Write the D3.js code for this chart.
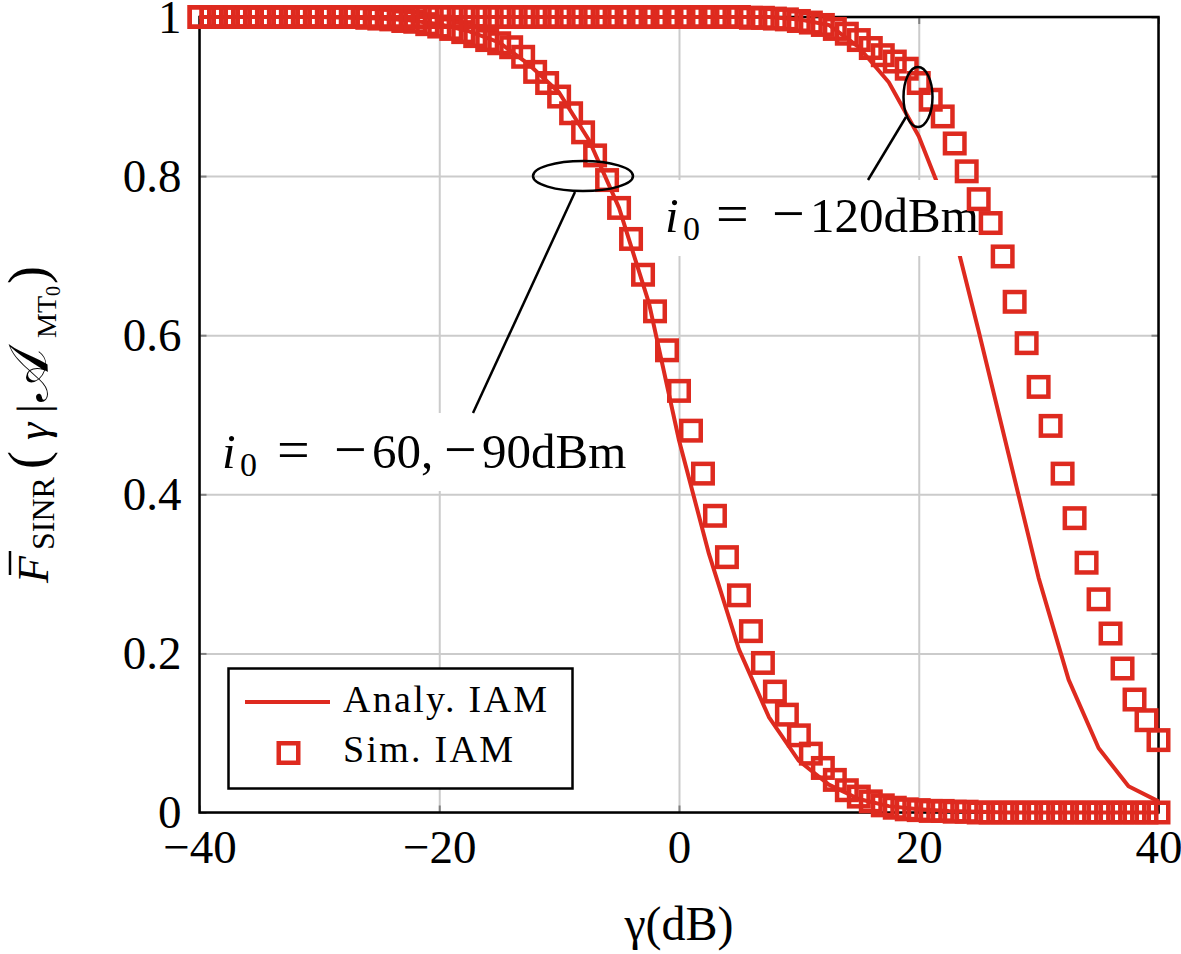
<!DOCTYPE html>
<html>
<head>
<meta charset="utf-8">
<script src="https://cdn.jsdelivr.net/npm/d3@7"></script>
<style>
  body { margin: 0; background: #fff; }
  text { font-family: "Liberation Serif", "DejaVu Serif", serif; fill: #000; }
</style>
</head>
<body>
<div id="chart"></div>
<script>
// gamma (dB) grid of the simulation markers
const gammaSim = [-40,-39,-38,-37,-36,-35,-34,-33,-32,-31,-30,-29,-28,-27,-26,-25,-24,-23,-22,-21,
  -20,-19,-18,-17,-16,-15,-14,-13,-12,-11,-10,-9,-8,-7,-6,-5,-4,-3,-2,-1,
  0,1,2,3,4,5,6,7,8,9,10,11,12,13,14,15,16,17,18,19,
  20,21,22,23,24,25,26,27,28,29,30,31,32,33,34,35,36,37,38,39,40];

// Sim. IAM, i0 = -60, -90 dBm
const simLow = [1,1,1,1,1,1,1,1,1,1,1,1,1,1,
  0.999,0.998,0.997,0.995,0.994,0.991,0.988,0.985,0.981,0.976,0.971,0.967,0.962,
  0.950,0.931,0.917,0.900,0.879,0.855,0.826,0.795,0.760,0.721,0.676,0.630,0.581,0.530,
  0.480,0.426,0.373,0.321,0.273,0.228,0.188,0.152,0.123,0.097,0.074,0.056,0.041,0.028,0.020,0.014,
  0.009,0.006,0.004,0.003,0.002,0.002,0.001,0.001,
  0,0,0,0,0,0,0,0,0,0,0,0,0,0,0,0];

// Sim. IAM, i0 = -120 dBm
const simHigh = [1,1,1,1,1,1,1,1,1,1,1,1,1,1,1,1,1,1,1,1,1,1,1,1,1,1,1,1,1,1,
  1,1,1,1,1,1,1,1,1,1,1,1,1,1,1,
  1.0,0.999,0.999,0.998,0.997,0.995,0.993,0.990,0.985,0.979,0.971,0.961,0.952,0.944,0.935,0.917,
  0.896,0.875,0.841,0.806,0.771,0.741,0.699,0.642,0.590,0.535,0.486,0.426,0.370,0.314,0.268,
  0.225,0.181,0.142,0.116,0.091];

// gamma (dB) grid of the analytic curves
const gammaAna = [-40,-37.5,-35,-32.5,-30,-27.5,-25,-22.5,-20,-17.5,-15,-12.5,-10,-7.5,-5,-2.5,
  0,2.5,5,7.5,10,12.5,15,17.5,20,22.5,25,27.5,30,32.5,35,37.5,40];

// Analy. IAM
const anaLow = [1,1,1,1,1,0.999,0.998,0.996,0.991,0.982,0.968,0.94,0.905,0.845,0.76,0.64,
  0.468,0.325,0.205,0.12,0.065,0.035,0.017,0.008,0.004,0.002,0.001,0,0,0,0,0,0];
const anaHigh = [1,1,1,1,1,1,1,1,1,1,1,1,1,1,1,1,1,1,1,1,
  0.997,0.99,0.962,0.918,0.85,0.755,0.605,0.45,0.295,0.167,0.081,0.033,0.014];

const xTicks = [-40, -20, 0, 20, 40];
const yTicks = [0, 0.2, 0.4, 0.6, 0.8, 1];
const legendLabels = ["Analy. IAM", "Sim. IAM"];

const W = 1181, H = 954;
const RED = "#de2a1f";
const x = d3.scaleLinear().domain([-40, 40]).range([199.5, 1158.5]);
const y = d3.scaleLinear().domain([0, 1]).range([812.5, 17]);
const x0 = x.range()[0], x1 = x.range()[1], y0 = y.range()[0], y1 = y.range()[1];

const svg = d3.select("#chart").append("svg")
  .attr("width", W).attr("height", H);

const fmt = d => d < 0 ? "\u2212" + Math.abs(d) : String(d);
const yfmt = d => d === 0 || d === 1 ? String(d) : d.toFixed(1);

// Grid
svg.append("g")
  .attr("transform", `translate(0,${y0})`)
  .call(d3.axisBottom(x).tickValues(xTicks).tickSize(-(y0 - y1)).tickFormat(""))
  .call(g => g.select(".domain").remove())
  .call(g => g.selectAll("line").attr("stroke", "#cbcbcb").attr("stroke-width", 2));
svg.append("g")
  .attr("transform", `translate(${x0},0)`)
  .call(d3.axisLeft(y).tickValues(yTicks).tickSize(-(x1 - x0)).tickFormat(""))
  .call(g => g.select(".domain").remove())
  .call(g => g.selectAll("line").attr("stroke", "#cbcbcb").attr("stroke-width", 2));

// Inner ticks on all sides
const tickStyle = g => g.call(g => g.select(".domain").remove())
  .call(g => g.selectAll("line").attr("stroke", "#808080").attr("stroke-width", 2));
svg.append("g").attr("transform", `translate(0,${y0})`)
  .call(d3.axisBottom(x).tickValues(xTicks).tickSize(-7).tickFormat("")).call(tickStyle);
svg.append("g").attr("transform", `translate(0,${y1})`)
  .call(d3.axisTop(x).tickValues(xTicks).tickSize(-7).tickFormat("")).call(tickStyle);
svg.append("g").attr("transform", `translate(${x0},0)`)
  .call(d3.axisLeft(y).tickValues(yTicks).tickSize(-7).tickFormat("")).call(tickStyle);
svg.append("g").attr("transform", `translate(${x1},0)`)
  .call(d3.axisRight(y).tickValues(yTicks).tickSize(-7).tickFormat("")).call(tickStyle);

// Tick labels
svg.append("g").attr("transform", `translate(0,${y0})`)
  .call(d3.axisBottom(x).tickValues(xTicks).tickSize(0).tickPadding(17).tickFormat(fmt))
  .call(g => g.select(".domain").remove())
  .call(g => g.selectAll("text").attr("font-size", 47).attr("font-family", null));
svg.append("g").attr("transform", `translate(${x0},0)`)
  .call(d3.axisLeft(y).tickValues(yTicks).tickSize(0).tickPadding(18).tickFormat(yfmt))
  .call(g => g.select(".domain").remove())
  .call(g => g.selectAll("text").attr("font-size", 47).attr("font-family", null));

// Frame
svg.append("rect")
  .attr("x", x0).attr("y", y1).attr("width", x1 - x0).attr("height", y0 - y1)
  .attr("fill", "none").attr("stroke", "#000").attr("stroke-width", 2.5);

// Analytic curves
const line = d3.line().x((d, i) => x(gammaAna[i])).y(d => y(d));
[anaLow, anaHigh].forEach(vals => {
  svg.append("path")
    .attr("d", line(vals))
    .attr("fill", "none").attr("stroke", RED).attr("stroke-width", 4)
    .attr("stroke-linejoin", "round");
});

// Annotation labels with white boxes; pieces placed like TeX math
function mathLabel(ty, parts) {
  const t = svg.append("text").attr("font-size", 49);
  parts.forEach(([px, str, kind]) => {
    const s = t.append("tspan").attr("x", px).attr("y", ty).text(str);
    if (kind === "it") s.attr("font-style", "italic");
    if (kind === "sub") s.attr("font-size", 34).attr("y", ty + 8);
    if (kind === "op") s.attr("font-size", 58).attr("y", ty + 1);
  });
}
svg.append("rect").attr("x", 212).attr("y", 413).attr("width", 440).attr("height", 78).attr("fill", "#fff");
svg.append("rect").attr("x", 652).attr("y", 180).attr("width", 338).attr("height", 76).attr("fill", "#fff");
mathLabel(468, [[222, "i", "it"], [240, "0", "sub"], [277, "=", "op"], [334, "\u2212", "op"],
  [372, "60,", ""], [444, "\u2212", "op"], [482, "90dBm", ""]]);
mathLabel(232, [[665, "i", "it"], [683, "0", "sub"], [716, "=", "op"], [772, "\u2212", "op"],
  [810, "120dBm", ""]]);

// Pointer lines
svg.append("line").attr("x1", 575).attr("y1", 192).attr("x2", 473).attr("y2", 413)
  .attr("stroke", "#000").attr("stroke-width", 2.5);
svg.append("line").attr("x1", 906).attr("y1", 117).attr("x2", 868).attr("y2", 180)
  .attr("stroke", "#000").attr("stroke-width", 2.5);

// Simulation markers
const half = 9.75;
[simLow, simHigh].forEach(vals => {
  svg.append("g").selectAll("rect")
    .data(vals).enter().append("rect")
    .attr("x", (d, i) => x(gammaSim[i]) - half)
    .attr("y", d => y(d) - half)
    .attr("width", half * 2).attr("height", half * 2)
    .attr("fill", "none").attr("stroke", RED).attr("stroke-width", 4.5);
});

svg.append("ellipse").attr("cx", 583).attr("cy", 176).attr("rx", 50).attr("ry", 15)
  .attr("fill", "none").attr("stroke", "#000").attr("stroke-width", 2.5);
svg.append("ellipse").attr("cx", 918).attr("cy", 97).attr("rx", 14.5).attr("ry", 30)
  .attr("fill", "none").attr("stroke", "#000").attr("stroke-width", 2.5);

// Legend
const lg = svg.append("g");
lg.append("rect").attr("x", 228.5).attr("y", 668.5).attr("width", 344).attr("height", 120)
  .attr("fill", "#fff").attr("stroke", "#000").attr("stroke-width", 2.5);
lg.append("line").attr("x1", 245).attr("x2", 330).attr("y1", 702).attr("y2", 702)
  .attr("stroke", RED).attr("stroke-width", 4);
lg.append("rect").attr("x", 288.5 - half).attr("y", 753 - half)
  .attr("width", half * 2).attr("height", half * 2)
  .attr("fill", "none").attr("stroke", RED).attr("stroke-width", 4.5);
lg.selectAll("text.lab").data(legendLabels).enter().append("text")
  .attr("class", "lab")
  .attr("x", 343).attr("y", (d, i) => 712 + i * 50)
  .attr("font-size", 38)
  .attr("textLength", (d, i) => i === 0 ? 204 : 170).attr("lengthAdjust", "spacing")
  .text(d => d);

// Axis titles
svg.append("text").attr("x", 679).attr("y", 940).attr("text-anchor", "middle")
  .attr("font-size", 48).text("\u03b3(dB)");

// y title, rotated by -90: tspan x = -(page y), tspan y = page x of the baseline
const yl = svg.append("text").attr("transform", "rotate(-90)").attr("font-size", 44);
const ylParts = [
  [-583, 48, "F", 44, "italic"],
  [-550, 54, "SINR", 32, null],
  [-469, 46, "(", 54, null],
  [-440, 48, "\u03b3", 44, "italic"],
  [-413, 48, "|", 44, null],
  [-402, 48, "\ud835\udc9c", 56, null],
  [-338, 56, "MT", 28, null],
  [-296, 60, "0", 20, null],
  [-284, 46, ")", 54, null]
];
ylParts.forEach(([px, py, str, fs, st]) => {
  const s = yl.append("tspan").attr("x", px).attr("y", py).attr("font-size", fs).text(str);
  if (st) s.attr("font-style", st);
  if (str === "\ud835\udc9c") s.attr("font-family", "DejaVu Sans, DejaVu Serif, serif");
});
// bar over F
svg.append("line").attr("x1", 10).attr("x2", 10).attr("y1", 551).attr("y2", 575)
  .attr("stroke", "#000").attr("stroke-width", 2.5);
</script>
</body>
</html>
